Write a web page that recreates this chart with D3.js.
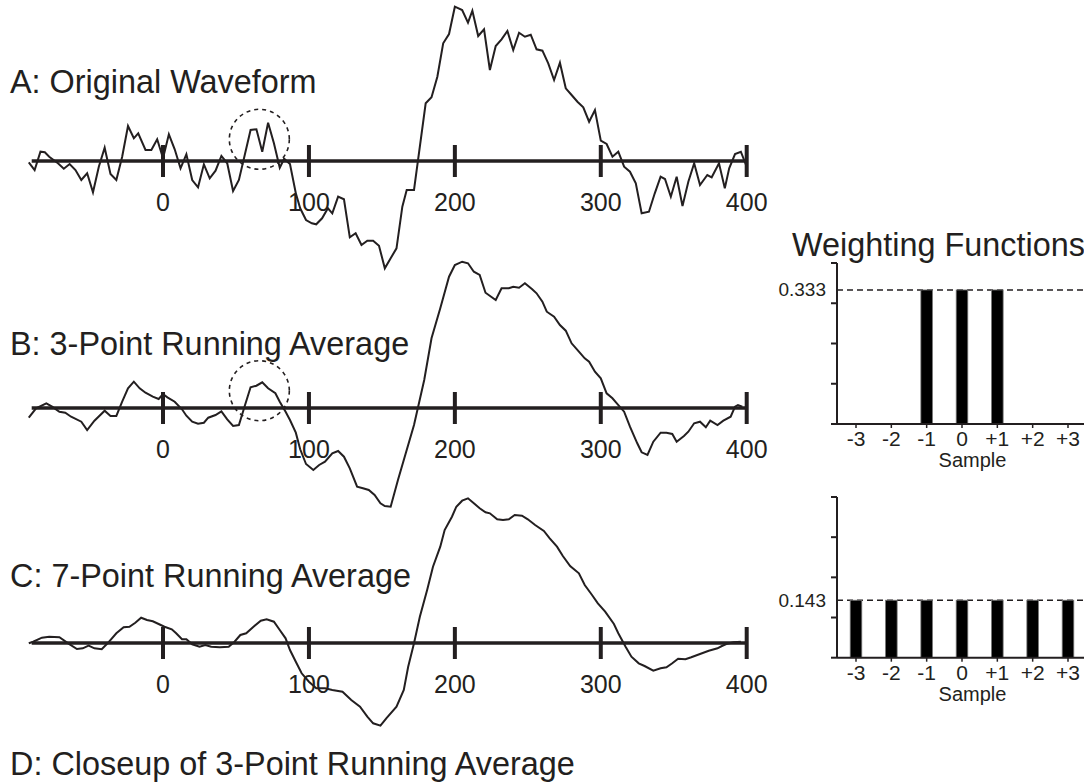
<!DOCTYPE html>
<html>
<head>
<meta charset="utf-8">
<script src="https://cdn.jsdelivr.net/npm/d3@7"></script>
<style>
  html, body { margin: 0; padding: 0; background: #fff; }
  svg { display: block; }
  text { font-family: "Liberation Sans", Arial, Helvetica, sans-serif; fill: #231f20; }
</style>
</head>
<body>
<div id="chart"></div>
<script>
// waveform samples: [time (ms), amplitude (µV)]
const waveA = [
  [-92,-0.13],[-88,-0.9],[-84,0.93],[-81,0.87],[-78,0.43],[-72,-0.23],[-68,-0.77],[-64,-0.3],
  [-60,-0.9],[-56,-1.9],[-52,-1.23],[-48,-3.13],[-44,-0.57],[-40,1.33],[-36,-1.3],[-32,-1.9],
  [-28,0.43],[-24,3.5],[-20,2.27],[-17,2.77],[-12,1.1],[-8,1.1],[-4,2.17],[0,0.27],
  [4,2.67],[8,1.17],[12,-0.73],[16,0.67],[20,-1.9],[24,-2.63],[28,-0.33],[32,-1.73],
  [36,-0.97],[40,0.5],[44,-0.23],[48,-3.0],[52,-1.9],[56,0.6],[60,3.1],[64,3.17],
  [68,0.93],[72,3.83],[76,1.77],[80,-0.67],[83,0.23],[87,-0.3],[91,-3.23],[94,-4.73],
  [98,-5.9],[102,-6.23],[105,-6.33],[109,-5.73],[113,-4.73],[116,-5.23],[120,-3.57],[124,-3.83],
  [128,-7.63],[132,-7.23],[136,-8.4],[140,-7.97],[144,-7.97],[148,-8.47],[152,-10.73],[156,-9.73],
  [160,-8.73],[164,-4.57],[167,-2.9],[172,-2.9],[180,5.77],[184,6.37],[188,8.43],[192,11.77],
  [196,12.7],[200,15.43],[205,15.1],[209,13.83],[212,15.03],[216,12.5],[220,13.17],[224,9.1],
  [228,11.5],[232,12.17],[236,13.0],[240,11.1],[244,12.83],[248,12.43],[252,12.63],[256,11.17],
  [260,11.03],[264,9.77],[268,8.1],[272,9.83],[276,7.27],[280,6.6],[284,5.93],[288,5.37],
  [292,3.93],[296,5.1],[300,2.03],[304,1.7],[308,0.43],[312,0.93],[316,-0.57],[320,-1.07],
  [324,-2.23],[328,-5.23],[333,-5.07],[337,-3.23],[341,-1.57],[344,-1.8],[348,-3.57],[352,-1.57],
  [356,-4.5],[360,-2.07],[364,-0.23],[368,-2.4],[373,-1.4],[376,-1.63],[381,-0.23],[385,-2.73],
  [388,-0.73],[392,0.7],[396,0.93],[400,-0.57]
];

const waveB = [
  [-92,-0.97],[-87,-0.03],[-80,0.47],[-76,0.13],[-71,-0.37],[-67,-0.47],[-63,-0.87],[-56,-1.37],
  [-52,-2.2],[-47,-1.27],[-40,-0.27],[-36,-0.8],[-32,-0.8],[-28,0.63],[-24,1.97],[-20,2.63],
  [-16,1.97],[-12,1.53],[-7,1.13],[-3,0.9],[0,1.4],[3,1.07],[8,0.63],[13,-0.13],
  [16,-0.77],[20,-1.37],[24,-1.57],[28,-1.47],[31,-0.97],[36,-0.7],[40,-0.33],[44,-1.13],
  [48,-1.8],[52,-1.7],[56,0.2],[60,2.07],[64,2.23],[68,2.57],[72,1.97],[77,1.47],
  [80,0.63],[84,-0.37],[87,-1.2],[91,-2.47],[94,-4.13],[98,-5.6],[103,-6.2],[107,-5.7],
  [111,-5.37],[116,-4.53],[120,-4.3],[124,-4.87],[128,-6.03],[133,-7.87],[137,-8.03],[141,-8.2],
  [145,-8.7],[149,-9.53],[152,-9.8],[156,-9.87],[161,-7.2],[172,-1.7],[179,2.8],[184,6.97],
  [190,9.97],[196,13.13],[200,14.3],[205,14.63],[209,14.47],[213,13.63],[217,13.3],[221,11.53],
  [228,10.8],[232,11.97],[237,11.97],[240,12.13],[244,12.03],[248,12.47],[253,11.87],[256,11.47],
  [260,10.63],[263,9.63],[268,9.13],[272,8.3],[276,7.73],[280,6.47],[285,5.63],[289,4.97],
  [292,4.63],[296,3.63],[300,2.97],[304,1.47],[308,0.97],[311,0.47],[316,-0.37],[320,-1.87],
  [325,-3.53],[328,-4.43],[332,-4.7],[336,-3.37],[341,-2.47],[345,-2.47],[349,-2.6],[352,-3.37],
  [357,-2.8],[360,-2.37],[364,-1.53],[368,-1.37],[372,-1.93],[375,-1.27],[380,-1.7],[384,-1.27],
  [389,-0.87],[392,0.13],[394,0.3],[397,0.13]
];

const waveC = [
  [-92,-0.03],[-89,0.13],[-83,0.53],[-78,0.63],[-71,0.57],[-65,-0.03],[-59,-0.6],[-55,-0.53],
  [-51,-0.27],[-47,-0.53],[-42,-0.63],[-38,-0.03],[-32,0.97],[-27,1.57],[-23,1.63],[-19,2.03],
  [-15,2.53],[-11,2.3],[-7,2.17],[-3,1.9],[1,1.63],[6,1.37],[9,0.97],[13,0.37],
  [16,0.37],[20,-0.13],[25,-0.37],[29,-0.2],[33,-0.37],[39,-0.43],[45,-0.37],[49,0.13],
  [53,0.8],[57,0.97],[62,1.63],[67,2.23],[71,2.37],[76,2.13],[80,1.3],[84,0.47],
  [87,-0.7],[91,-1.87],[95,-3.03],[100,-3.87],[105,-4.53],[111,-4.53],[116,-4.7],[123,-4.87],
  [129,-5.7],[135,-6.37],[140,-7.37],[144,-8.03],[149,-8.27],[153,-7.53],[160,-6.37],[165,-4.7],
  [168,-2.37],[172,-0.03],[176,2.63],[181,5.3],[185,7.63],[190,9.63],[193,11.3],[198,12.63],
  [201,13.63],[205,14.23],[209,14.47],[213,13.97],[217,13.47],[221,13.07],[224,12.97],[229,12.37],
  [233,12.3],[237,12.37],[241,12.8],[246,12.73],[250,12.37],[255,11.8],[261,11.2],[265,10.47],
  [270,9.63],[274,8.7],[279,7.7],[285,6.97],[289,5.8],[294,4.8],[298,3.97],[303,3.13],
  [309,1.9],[312,0.97],[317,-0.37],[321,-1.37],[326,-2.03],[330,-2.3],[336,-2.77],[341,-2.53],
  [345,-2.43],[349,-2.03],[353,-1.57],[358,-1.63],[362,-1.43],[368,-1.1],[374,-0.77],[380,-0.53],
  [383,-0.3],[386,-0.1],[391,0.07],[396,0.13]
];

const timeTicks = [0, 100, 200, 300, 400];
const panelLabels = ['A: Original Waveform', 'B: 3-Point Running Average', 'C: 7-Point Running Average'];
const closeupLabel = 'D: Closeup of 3-Point Running Average';

// dashed circles mark the same bump in A and B: [time, amplitude]
const circleA = [66, 2.17];
const circleB = [66, 1.73];

// weighting functions
const sampleLabels = ['-3', '-2', '-1', '0', '+1', '+2', '+3'];
const samplePos = [-3, -2, -1, 0, 1, 2, 3];
const weights3 = [0, 0, 0.333, 0.333, 0.333, 0, 0];
const weights7 = [0.143, 0.143, 0.143, 0.143, 0.143, 0.143, 0.143];
const weightTicks = [0, 0.1, 0.2, 0.3, 0.4];

const width = 1084, height = 784;
const ink = '#231f20';

const svg = d3.select('#chart').append('svg')
    .attr('width', width)
    .attr('height', height);

const x = d3.scaleLinear().domain([-90, 400]).range([31.7, 746.7]);

function drawWave(data, axisY, labelY, label, circle) {
    const y = d3.scaleLinear().domain([0, 10]).range([axisY, axisY - 100]);
    const g = svg.append('g');

    g.append('text')
        .attr('x', 10)
        .attr('y', labelY)
        .attr('font-size', 32.4)
        .text(label);

    // axis line and ticks
    g.append('line')
        .attr('x1', x(-90)).attr('x2', x(400))
        .attr('y1', axisY).attr('y2', axisY)
        .attr('stroke', ink).attr('stroke-width', 3.5);

    g.selectAll('line.tick')
        .data(timeTicks)
        .enter()
        .append('line')
        .attr('class', 'tick')
        .attr('x1', d => x(d)).attr('x2', d => x(d))
        .attr('y1', axisY - 16).attr('y2', axisY + 16)
        .attr('stroke', ink).attr('stroke-width', 4);

    g.selectAll('text.tlabel')
        .data(timeTicks)
        .enter()
        .append('text')
        .attr('class', 'tlabel')
        .attr('x', d => x(d))
        .attr('y', axisY + 50)
        .attr('text-anchor', 'middle')
        .attr('font-size', 25)
        .text(d => d);

    const line = d3.line()
        .x(d => x(d[0]))
        .y(d => y(d[1]));

    g.append('path')
        .datum(data)
        .attr('d', line)
        .attr('fill', 'none')
        .attr('stroke', ink)
        .attr('stroke-width', 2)
        .attr('stroke-linejoin', 'miter');

    if (circle) {
        g.append('circle')
            .attr('cx', x(circle[0]))
            .attr('cy', y(circle[1]))
            .attr('r', 30)
            .attr('fill', 'none')
            .attr('stroke', ink)
            .attr('stroke-width', 1.6)
            .attr('stroke-dasharray', '4,4');
    }
}

drawWave(waveA, 161, 93, panelLabels[0], circleA);
drawWave(waveB, 408, 355, panelLabels[1], circleB);
drawWave(waveC, 643, 587, panelLabels[2], null);

svg.append('text')
    .attr('x', 10)
    .attr('y', 775)
    .attr('font-size', 32.4)
    .text(closeupLabel);

// weighting function charts
svg.append('text')
    .attr('x', 792)
    .attr('y', 256)
    .attr('font-size', 32.4)
    .text('Weighting Functions');

const wx = d3.scaleLinear().domain([-3, 3]).range([856, 1068]);
const axisX = 837;

function drawWeights(weights, top, bottom) {
    const wy = d3.scaleLinear().domain([0, 0.4]).range([bottom, top]);
    const g = svg.append('g');
    const w = d3.max(weights);

    // dashed reference line at the weight
    g.append('line')
        .attr('x1', axisX).attr('x2', width)
        .attr('y1', wy(w)).attr('y2', wy(w))
        .attr('stroke', ink).attr('stroke-width', 1.5)
        .attr('stroke-dasharray', '6,4');

    g.append('text')
        .attr('x', 826)
        .attr('y', wy(w) + 6.5)
        .attr('text-anchor', 'end')
        .attr('font-size', 19)
        .text(w.toFixed(3));

    const bars = samplePos.map((s, i) => ({ s: s, w: weights[i] })).filter(d => d.w > 0);
    g.selectAll('rect.bar')
        .data(bars)
        .enter()
        .append('rect')
        .attr('class', 'bar')
        .attr('x', d => wx(d.s) - 5.8)
        .attr('y', d => wy(d.w))
        .attr('width', 11.6)
        .attr('height', d => wy(0) - wy(d.w))
        .attr('fill', '#000')
        .attr('stroke', '#777')
        .attr('stroke-width', 0.8);

    // axes
    g.append('line')
        .attr('x1', axisX).attr('x2', axisX)
        .attr('y1', top).attr('y2', bottom)
        .attr('stroke', ink).attr('stroke-width', 2);
    g.append('line')
        .attr('x1', axisX).attr('x2', width)
        .attr('y1', bottom).attr('y2', bottom)
        .attr('stroke', ink).attr('stroke-width', 2);
    g.selectAll('line.ytick')
        .data(weightTicks)
        .enter()
        .append('line')
        .attr('class', 'ytick')
        .attr('x1', axisX - 6).attr('x2', axisX)
        .attr('y1', d => wy(d)).attr('y2', d => wy(d))
        .attr('stroke', ink).attr('stroke-width', 2);
    g.selectAll('line.xtick')
        .data(samplePos)
        .enter()
        .append('line')
        .attr('class', 'xtick')
        .attr('x1', d => wx(d)).attr('x2', d => wx(d))
        .attr('y1', bottom).attr('y2', bottom + 4)
        .attr('stroke', ink).attr('stroke-width', 1.5);

    g.selectAll('text.xlabel')
        .data(sampleLabels)
        .enter()
        .append('text')
        .attr('class', 'xlabel')
        .attr('x', (d, i) => wx(samplePos[i]))
        .attr('y', bottom + 22)
        .attr('text-anchor', 'middle')
        .attr('font-size', 21)
        .text(d => d);

    g.append('text')
        .attr('x', 972.5)
        .attr('y', bottom + 43)
        .attr('text-anchor', 'middle')
        .attr('font-size', 20)
        .text('Sample');
}

drawWeights(weights3, 263, 424);
drawWeights(weights7, 497, 657.7);
</script>
</body>
</html>
